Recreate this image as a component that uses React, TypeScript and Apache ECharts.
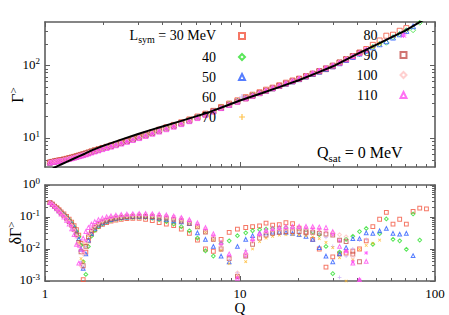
import React, { useEffect, useRef } from 'react';
import * as echarts from 'echarts';

// ---------- data ----------
const qGrid = [
  1.06, 1.09, 1.12, 1.15, 1.18, 1.21, 1.25, 1.29, 1.33, 1.37,
  1.41, 1.45, 1.49, 1.53, 1.57, 1.62, 1.67, 1.73, 1.80, 1.88,
  1.97, 2.07, 2.18, 2.31, 2.46, 2.63, 2.82, 3.04, 3.28, 3.55,
  3.85, 4.19, 4.57, 5.0, 5.5, 6.05, 6.65, 7.3, 8.0, 8.8,
  9.7, 10.7, 11.6, 12.6, 13.6, 14.7, 15.9, 17.2, 18.6, 20.1,
  21.8, 23.6, 25.5, 27.6, 29.9, 32.4, 35.0, 37.9, 41.0, 44.4,
  48.0, 52.0, 56.3, 60.9, 65.9, 71.3, 77.2, 83.5, 90.4,
];

const lsymNames = ['30', '40', '50', '60', '70', '80', '90', '100', '110'];

const gamma30 = [
  4.61, 4.70, 4.78, 4.86, 4.93, 4.97, 5.09, 5.19, 5.31, 5.41,
  5.52, 5.64, 5.76, 5.88, 5.97, 6.15, 6.33, 6.55, 6.79, 7.03,
  7.32, 7.60, 7.92, 8.30, 8.75, 9.25, 9.81, 10.47, 11.25, 12.14,
  13.11, 14.14, 15.23, 16.57, 18.12, 19.87, 21.75, 23.8, 26.93, 29.96,
  33.24, 36.75, 39.69, 42.96, 46.6, 49.74, 53.64, 58.2, 62.45, 66.15,
  71.31, 76.7, 82.6, 89.5, 98.2, 109.6, 121.9, 135.7, 151.3, 169.5,
  193.6, 222.4, 258.8, 267, 302.7, 329.4, 404.8, 474.8, 534.5,
];
const delta30 = [
  0.28, 0.25, 0.22, 0.195, 0.17, 0.145, 0.125, 0.105, 0.086, 0.069,
  0.054, 0.04, 0.027, 0.015, 0.0011, 0.008, 0.018, 0.029, 0.04, 0.05,
  0.059, 0.067, 0.074, 0.08, 0.085, 0.089, 0.091, 0.09, 0.085, 0.077,
  0.067, 0.06, 0.054, 0.042, 0.031, 0.019, 0.01, 0.0085, 0.02, 0.033,
  0.042, 0.047, 0.05, 0.053, 0.064, 0.056, 0.058, 0.066, 0.062, 0.045,
  0.032, 0.02, 0.01, 0.0027, 0.0057, 0.007, 0.0075, 0.0085, 0.01, 0.018,
  0.05, 0.085, 0.14, 0.06, 0.085, 0.06, 0.15, 0.19, 0.18,
];

const gamma40 = [
  4.61, 4.70, 4.78, 4.84, 4.90, 4.95, 5.06, 5.17, 5.29, 5.39,
  5.50, 5.62, 5.74, 5.87, 5.99, 6.19, 6.37, 6.58, 6.80, 7.03,
  7.31, 7.58, 7.88, 8.25, 8.70, 9.19, 9.73, 10.36, 11.11, 11.94,
  12.9, 13.96, 15.13, 16.44, 18.01, 19.8, 21.78, 23.86, 26.8, 29.52,
  32.73, 36.22, 39.2, 42.43, 45.64, 49.17, 52.98, 57.11, 61.45, 66.02,
  71.86, 77.76, 84.09, 90.37, 97.4, 107.9, 118.6, 131.2, 144.6, 159.2,
  181.8, 198.9, 207.2, 246.9, 274, 307.8, 308.4, 391.4,
];
const delta40 = [
  0.28, 0.25, 0.22, 0.19, 0.165, 0.14, 0.12, 0.1, 0.082, 0.065,
  0.05, 0.036, 0.024, 0.013, 0.004, 0.0016, 0.012, 0.025, 0.038, 0.05,
  0.061, 0.07, 0.078, 0.085, 0.09, 0.095, 0.098, 0.099, 0.097, 0.092,
  0.082, 0.072, 0.06, 0.05, 0.037, 0.022, 0.0088, 0.006, 0.015, 0.018,
  0.026, 0.032, 0.037, 0.04, 0.042, 0.044, 0.045, 0.046, 0.045, 0.043,
  0.04, 0.034, 0.028, 0.012, 0.0017, 0.008, 0.02, 0.025, 0.035, 0.044,
  0.014, 0.03, 0.087, 0.02, 0.018, 0.0098, 0.124, 0.019,
];

const gamma50 = [
  4.61, 4.70, 4.78, 4.84, 4.90, 4.95, 5.05, 5.16, 5.28, 5.38,
  5.49, 5.60, 5.73, 5.85, 5.98, 6.16, 6.33, 6.54, 6.76, 6.99,
  7.27, 7.54, 7.84, 8.21, 8.64, 9.14, 9.68, 10.3, 11.03, 11.84,
  12.74, 13.76, 14.88, 16.09, 17.54, 19.6, 21.53, 23.71, 26.24, 28.88,
  32.28, 35.8, 38.78, 42.06, 45.2, 48.7, 52.42, 56.4, 60.62, 65.07,
  70.83, 76.7, 82.7, 89.84, 98, 108, 119.7, 131.8, 146.7, 161.2,
  178.7, 197.4, 217, 244.1, 270.9, 301.2, 349.8,
];
const delta50 = [
  0.28, 0.25, 0.22, 0.19, 0.165, 0.14, 0.118, 0.098, 0.08, 0.063,
  0.048, 0.034, 0.021, 0.01, 0.0025, 0.007, 0.019, 0.031, 0.044, 0.056,
  0.066, 0.075, 0.083, 0.09, 0.096, 0.1, 0.103, 0.104, 0.103, 0.1,
  0.093, 0.085, 0.076, 0.07, 0.062, 0.032, 0.02, 0.012, 0.006, 0.004,
  0.012, 0.02, 0.026, 0.031, 0.032, 0.034, 0.034, 0.033, 0.031, 0.028,
  0.025, 0.02, 0.011, 0.006, 0.004, 0.007, 0.011, 0.021, 0.021, 0.032,
  0.031, 0.037, 0.044, 0.031, 0.029, 0.031, 0.0062,
];

const gamma60 = [
  4.61, 4.70, 4.76, 4.82, 4.88, 4.93, 5.03, 5.14, 5.25, 5.35,
  5.45, 5.57, 5.69, 5.81, 5.98, 6.13, 6.27, 6.48, 6.70, 6.93,
  7.20, 7.47, 7.77, 8.14, 8.57, 9.05, 9.59, 10.21, 10.93, 11.73,
  12.59, 13.57, 14.65, 15.92, 17.43, 19.2, 21.18, 23.5, 26.11, 28.87,
  31.84, 35.42, 38.56, 41.94, 45.29, 48.89, 52.73, 56.84, 61.21, 65.83,
  71.73, 77.83, 84.25, 91.35, 98.77, 108.9, 120.3, 133.3, 147, 163.2,
];
const delta60 = [
  0.28, 0.25, 0.215, 0.185, 0.16, 0.135, 0.113, 0.093, 0.074, 0.057,
  0.041, 0.027, 0.014, 0.004, 0.0025, 0.012, 0.028, 0.04, 0.052, 0.064,
  0.074, 0.083, 0.091, 0.098, 0.104, 0.108, 0.111, 0.112, 0.111, 0.108,
  0.104, 0.098, 0.09, 0.08, 0.068, 0.052, 0.036, 0.021, 0.011, 0.0045,
  0.0018, 0.009, 0.02, 0.028, 0.034, 0.038, 0.04, 0.041, 0.041, 0.04,
  0.038, 0.035, 0.03, 0.023, 0.012, 0.0013, 0.006, 0.01, 0.019, 0.02,
];

const gamma70 = [
  4.61, 4.70, 4.76, 4.82, 4.88, 4.93, 5.03, 5.14, 5.26, 5.35,
  5.46, 5.57, 5.69, 5.82, 5.95, 6.11, 6.28, 6.49, 6.72, 6.95,
  7.23, 7.50, 7.81, 8.17, 8.61, 9.10, 9.65, 10.27, 11.0, 11.8,
  12.66, 13.64, 14.73, 16.0, 17.52, 19.28, 21.25, 23.54, 26.16, 28.9,
  31.85, 35.24, 38.18, 41.49, 44.76, 48.28, 52.07, 56.13, 60.45, 65.01,
  70.9, 77, 83.52, 90.73, 98.67, 109.4, 121.1, 134, 148.3, 164.3,
  181.6, 201.1,
];
const delta70 = [
  0.28, 0.25, 0.215, 0.185, 0.16, 0.135, 0.113, 0.093, 0.075, 0.058,
  0.042, 0.028, 0.015, 0.005, 0.004, 0.014, 0.026, 0.038, 0.05, 0.061,
  0.071, 0.08, 0.087, 0.094, 0.099, 0.103, 0.106, 0.107, 0.106, 0.103,
  0.099, 0.093, 0.085, 0.075, 0.063, 0.048, 0.033, 0.019, 0.009, 0.0035,
  0.0015, 0.004, 0.01, 0.017, 0.022, 0.025, 0.027, 0.028, 0.028, 0.027,
  0.026, 0.024, 0.021, 0.016, 0.011, 0.0054, 0.001, 0.0046, 0.0098, 0.013,
  0.015, 0.019,
];

const gamma80 = [
  4.61, 4.70, 4.76, 4.81, 4.86, 4.90, 5.01, 5.11, 5.23, 5.33,
  5.44, 5.55, 5.68, 5.81, 5.92, 6.09, 6.26, 6.46, 6.67, 6.90,
  7.17, 7.42, 7.72, 8.08, 8.51, 8.98, 9.52, 10.12, 10.82, 11.6,
  12.45, 13.42, 14.49, 15.74, 17.26, 19.04, 21.05, 23.38, 26.03, 28.83,
  31.86, 35.31, 38.48, 41.94, 45.33, 48.98, 52.88, 57.06, 61.5, 66.21,
  72.21, 78.43, 85.07, 92.43, 100.3, 110.8, 122.1, 135.1, 150, 165.2,
];
const delta80 = [
  0.28, 0.25, 0.215, 0.183, 0.155, 0.13, 0.108, 0.088, 0.07, 0.053,
  0.038, 0.024, 0.012, 0.0035, 0.008, 0.018, 0.03, 0.043, 0.056, 0.068,
  0.079, 0.089, 0.097, 0.104, 0.11, 0.115, 0.118, 0.12, 0.12, 0.118,
  0.114, 0.108, 0.1, 0.09, 0.077, 0.06, 0.042, 0.026, 0.014, 0.006,
  0.0013, 0.006, 0.018, 0.028, 0.035, 0.04, 0.043, 0.045, 0.046, 0.046,
  0.045, 0.043, 0.04, 0.035, 0.028, 0.018, 0.0088, 0.004, 0.0011, 0.0076,
];

const gamma90 = [
  4.61, 4.70, 4.76, 4.82, 4.88, 4.92, 5.02, 5.12, 5.24, 5.34,
  5.45, 5.57, 5.70, 5.84, 5.99, 6.13, 6.30, 6.51, 6.73, 6.96,
  7.24, 7.51, 7.81, 8.18, 8.62, 9.11, 9.66, 10.28, 11.01, 11.81,
  12.67, 13.66, 14.75, 16.0, 17.52, 19.26, 21.22, 23.52, 26.14, 28.86,
  31.86, 35.31, 38.33, 41.7, 44.98, 48.56, 52.37, 56.51, 60.86, 65.52,
  71.45, 77.68, 84.34, 91.89, 100.2, 110.9, 123.1, 135.5, 150.4,
];
const delta90 = [
  0.28, 0.25, 0.215, 0.185, 0.158, 0.133, 0.11, 0.09, 0.072, 0.056,
  0.041, 0.028, 0.016, 0.0082, 0.003, 0.012, 0.024, 0.036, 0.048, 0.06,
  0.07, 0.079, 0.087, 0.093, 0.098, 0.102, 0.105, 0.106, 0.105, 0.102,
  0.098, 0.092, 0.084, 0.075, 0.063, 0.049, 0.034, 0.02, 0.01, 0.005,
  0.0014, 0.006, 0.014, 0.022, 0.027, 0.031, 0.033, 0.035, 0.035, 0.035,
  0.034, 0.033, 0.031, 0.029, 0.027, 0.019, 0.017, 0.0069, 0.004,
];

const gamma100 = [
  4.61, 4.70, 4.76, 4.82, 4.87, 4.91, 5.01, 5.12, 5.24, 5.33,
  5.44, 5.56, 5.68, 5.81, 5.93, 6.09, 6.26, 6.47, 6.69, 6.91,
  7.18, 7.44, 7.74, 8.10, 8.54, 9.02, 9.56, 10.17, 10.87, 11.65,
  12.5, 13.48, 14.55, 15.81, 17.33, 19.1, 21.09, 23.42, 26.08, 28.86,
  31.84, 35.35, 38.44, 41.86, 45.25, 48.89, 52.78, 56.95, 61.39, 66.09,
  72.07, 78.36, 85.07, 92.6, 100.8, 111.8, 123.9, 135.4,
];
const delta100 = [
  0.28, 0.25, 0.215, 0.184, 0.156, 0.131, 0.109, 0.089, 0.071, 0.054,
  0.039, 0.025, 0.013, 0.003, 0.007, 0.017, 0.029, 0.041, 0.054, 0.066,
  0.077, 0.087, 0.095, 0.102, 0.107, 0.111, 0.114, 0.116, 0.116, 0.114,
  0.11, 0.104, 0.096, 0.086, 0.073, 0.057, 0.04, 0.024, 0.012, 0.005,
  0.0018, 0.007, 0.017, 0.026, 0.033, 0.038, 0.041, 0.043, 0.044, 0.044,
  0.043, 0.042, 0.04, 0.037, 0.033, 0.028, 0.024, 0.0057,
];

const gamma110 = [
  4.61, 4.70, 4.75, 4.80, 4.84, 4.88, 4.97, 5.07, 5.18, 5.28,
  5.39, 5.50, 5.63, 5.73, 5.84, 5.98, 6.15, 6.35, 6.56, 6.79,
  7.06, 7.32, 7.62, 7.98, 8.41, 8.89, 9.42, 10.02, 10.71, 11.48,
  12.32, 13.28, 14.36, 15.62, 17.15, 18.91, 20.94, 23.28, 25.98, 28.8,
  31.86, 35.38, 38.59, 42.06, 45.51, 49.17, 53.13, 57.33, 61.8, 66.53,
  72.62, 78.96, 85.81, 93.5, 101, 110.1, 122.1, 135.1, 150, 165.8,
];
const delta110 = [
  0.28, 0.25, 0.213, 0.18, 0.15, 0.124, 0.1, 0.079, 0.06, 0.043,
  0.028, 0.014, 0.0036, 0.01, 0.022, 0.035, 0.047, 0.06, 0.072, 0.083,
  0.093, 0.102, 0.109, 0.115, 0.12, 0.124, 0.127, 0.129, 0.129, 0.127,
  0.123, 0.117, 0.108, 0.097, 0.083, 0.066, 0.047, 0.03, 0.016, 0.007,
  0.0012, 0.008, 0.021, 0.031, 0.039, 0.044, 0.048, 0.05, 0.051, 0.051,
  0.051, 0.05, 0.049, 0.047, 0.035, 0.012, 0.0087, 0.0036, 0.0011, 0.0041,
];

const curveQ = [1.06, 1.125, 1.2, 1.3, 1.4, 1.5, 1.6, 1.76, 2.0, 2.5, 3.0, 3.5, 4.0, 5.0, 6.0, 7.0, 8.5, 10, 13, 16, 20, 25, 30, 40, 52, 60, 70, 81, 90];
const curveGamma = [3.6, 3.95, 4.3, 4.75, 5.2, 5.65, 6.1, 6.9, 7.9, 9.7, 11.4, 13.0, 14.5, 17.3, 20.1, 23, 28, 33, 42, 51, 63, 80, 98, 145, 205, 247, 302, 380, 450];

const xMajorTicks = [1, 10, 100];
const xMinorTicks = [2, 3, 4, 5, 6, 7, 8, 9, 20, 30, 40, 50, 60, 70, 80, 90];
const topYMajorTicks = [10, 100];
const topYMinorTicks = [5, 6, 7, 8, 9, 20, 30, 40, 50, 60, 70, 80, 90, 200, 300];
const botYMajorTicks = [0.001, 0.01, 0.1, 1];
const botYMinorTicks = [0.002, 0.003, 0.004, 0.005, 0.006, 0.007, 0.008, 0.009, 0.02, 0.03, 0.04, 0.05, 0.06, 0.07, 0.08, 0.09, 0.2, 0.3, 0.4, 0.5, 0.6, 0.7, 0.8, 0.9];

const gammaSets = [gamma30, gamma40, gamma50, gamma60, gamma70, gamma80, gamma90, gamma100, gamma110];
const deltaSets = [delta30, delta40, delta50, delta60, delta70, delta80, delta90, delta100, delta110];

// ---------- styles ----------
const FONT = 'Liberation Serif';
const PLUS = 'path://M0.40,0H0.60V1H0.40ZM0,0.40H1V0.60H0Z';
const STAR = 'path://M0.41,0H0.59V1H0.41ZM0,0.41H1V0.59H0ZM0.09,0L1,0.91L0.91,1L0,0.09ZM0.91,0L1,0.09L0.09,1L0,0.91Z';
const markerStyles = [
  { color: '#f2553f', symbol: 'rect', open: true, rotate: 0 },
  { color: '#2fe02f', symbol: 'diamond', open: true, rotate: 0 },
  { color: '#2a5cff', symbol: 'triangle', open: true, rotate: 0 },
  { color: '#c6a2f2', symbol: PLUS, open: false, rotate: 0 },
  { color: '#ffb41f', symbol: PLUS, open: false, rotate: 45 },
  { color: '#ff3cff', symbol: STAR, open: false, rotate: 0 },
  { color: '#c4524f', symbol: 'rect', open: true, rotate: 0 },
  { color: '#ffc4c4', symbol: 'diamond', open: true, rotate: 0 },
  { color: '#ff4df0', symbol: 'triangle', open: true, rotate: 0 },
];

const frameLine = { color: '#5e5e5e', width: 1.6 };
const tickLine = { color: '#5e5e5e', width: 1 };

function makeScatter(i: number, vals: number[], axisIdx: number, size: number) {
  const m = markerStyles[i];
  return {
    type: 'scatter',
    name: lsymNames[i],
    xAxisIndex: axisIdx,
    yAxisIndex: axisIdx,
    data: vals.map((v, j) => [qGrid[j], v]),
    symbol: m.symbol,
    symbolSize: size,
    symbolRotate: m.rotate,
    clip: true,
    silent: true,
    itemStyle: m.open
      ? { color: 'rgba(255,255,255,0)', borderColor: m.color, borderWidth: 1 }
      : { color: m.color, borderWidth: 0 },
    emphasis: { disabled: true },
    z: 2,
  };
}

const supRich = {
  b: { fontSize: 13, fontFamily: FONT, color: '#000', lineHeight: 15, verticalAlign: 'bottom' },
  s: { fontSize: 9, fontFamily: FONT, color: '#000', lineHeight: 10, padding: [0, 0, 5, 0], verticalAlign: 'bottom' },
};

function xAxisDef(grid: number, pos: string, ticks: number[], len: number, line: boolean, labels: boolean) {
  const ax: any = {
    type: 'log', logBase: 10, min: 1, max: 100, gridIndex: grid, position: pos,
    splitLine: { show: false }, minorTick: { show: false }, minorSplitLine: { show: false },
    axisLine: { show: line, lineStyle: frameLine },
    axisTick: { show: true, inside: true, length: len, customValues: ticks, lineStyle: tickLine },
    axisLabel: labels
      ? { show: true, customValues: xMajorTicks, formatter: (v: number) => String(Math.round(v)), fontSize: 13, fontFamily: FONT, color: '#000', margin: 6 }
      : { show: false },
  };
  if (labels) {
    ax.name = 'Q';
    ax.nameLocation = 'middle';
    ax.nameGap = 16;
    ax.nameTextStyle = { fontSize: 15, fontFamily: FONT, color: '#000', lineHeight: 14 };
  }
  return ax;
}

function yAxisDef(grid: number, pos: string, min: number, max: number, ticks: number[], len: number, line: boolean, labelVals: number[] | null) {
  return {
    type: 'log', logBase: 10, min, max, gridIndex: grid, position: pos,
    splitLine: { show: false }, minorTick: { show: false }, minorSplitLine: { show: false },
    axisLine: { show: line, lineStyle: frameLine },
    axisTick: { show: true, inside: true, length: len, customValues: ticks, lineStyle: tickLine },
    axisLabel: labelVals
      ? {
          show: true, customValues: labelVals, margin: 5, padding: [0, 0, 5, 0],
          formatter: (v: number) => `{b|10}{s|${Math.round(Math.log10(v))}}`,
          rich: supRich,
        }
      : { show: false },
  };
}

export default function App() {
  const ref = useRef<HTMLDivElement>(null);
  useEffect(() => {
    if (!ref.current) return;
    const chart = echarts.init(ref.current, null, { renderer: 'svg' });

    const topGrid = { left: 45, top: 22, width: 390, height: 145, outerBoundsMode: 'none' };
    const botGrid = { left: 45, top: 185, width: 390, height: 96, outerBoundsMode: 'none' };

    const series: any[] = [];
    gammaSets.forEach((g, i) => series.push(makeScatter(i, g, 0, 5)));
    deltaSets.forEach((d, i) => series.push(makeScatter(i, d, 1, 3.8)));
    series.push({
      type: 'line', name: 'fit', xAxisIndex: 0, yAxisIndex: 0,
      data: curveQ.map((q, i) => [q, curveGamma[i]]),
      showSymbol: false, symbol: 'none', clip: true, silent: true,
      lineStyle: { color: '#000', width: 2 }, z: 5,
    });

    const legendText = (name: string) =>
      name === '30' ? '{t|L}{u|sym}{t| = 30 MeV}{g| }' : `{t|${name}}{g| }`;
    const legendRich = {
      t: { fontSize: 14, fontFamily: FONT, color: '#000', verticalAlign: 'top' },
      u: { fontSize: 10, fontFamily: FONT, color: '#000', padding: [6, 0, 0, 0], verticalAlign: 'top' },
      g: { width: 18, fontSize: 10, verticalAlign: 'top' },
    };
    const legendBase = {
      orient: 'vertical', align: 'right', top: 28, padding: 0, itemGap: 6,
      itemWidth: 6, itemHeight: 6, selectedMode: false,
      formatter: legendText,
      textStyle: { rich: legendRich, fontFamily: FONT, fontSize: 14, color: '#000' },
    };

    const option: any = {
      animation: false,
      backgroundColor: '#fff',
      textStyle: { fontFamily: FONT },
      grid: [topGrid, botGrid, { ...topGrid }, { ...botGrid }],
      xAxis: [
        xAxisDef(0, 'bottom', xMajorTicks, 5, true, false),
        xAxisDef(1, 'bottom', xMajorTicks, 5, true, true),
        xAxisDef(0, 'top', xMajorTicks, 5, true, false),
        xAxisDef(1, 'top', xMajorTicks, 5, true, false),
        xAxisDef(2, 'bottom', xMinorTicks, 3, false, false),
        xAxisDef(2, 'top', xMinorTicks, 3, false, false),
        xAxisDef(3, 'bottom', xMinorTicks, 3, false, false),
        xAxisDef(3, 'top', xMinorTicks, 3, false, false),
      ],
      yAxis: [
        yAxisDef(0, 'left', 4, 400, topYMajorTicks, 5, true, topYMajorTicks),
        yAxisDef(1, 'left', 0.001, 1, botYMajorTicks, 5, true, botYMajorTicks),
        yAxisDef(0, 'right', 4, 400, topYMajorTicks, 5, true, null),
        yAxisDef(1, 'right', 0.001, 1, botYMajorTicks, 5, true, null),
        yAxisDef(2, 'left', 4, 400, topYMinorTicks, 3, false, null),
        yAxisDef(2, 'right', 4, 400, topYMinorTicks, 3, false, null),
        yAxisDef(3, 'left', 0.001, 1, botYMinorTicks, 3, false, null),
        yAxisDef(3, 'right', 0.001, 1, botYMinorTicks, 3, false, null),
      ],
      legend: [
        { ...legendBase, right: 203, data: lsymNames.slice(0, 5) },
        { ...legendBase, right: 41.5, data: lsymNames.slice(5) },
      ],
      graphic: [
        {
          type: 'text', x: 16, y: 95, rotation: Math.PI / 2, silent: true,
          style: {
            text: '{a|Γ}{s|>}', align: 'center', verticalAlign: 'middle',
            rich: {
              a: { fontSize: 16, fontFamily: FONT, fill: '#000', lineHeight: 18, verticalAlign: 'bottom' },
              s: { fontSize: 11, fontFamily: FONT, fill: '#000', lineHeight: 12, padding: [0, 0, 7, 0], verticalAlign: 'bottom' },
            },
          },
        },
        {
          type: 'text', x: 14, y: 233, rotation: Math.PI / 2, silent: true,
          style: {
            text: '{a|δΓ}{s|>}', align: 'center', verticalAlign: 'middle',
            rich: {
              a: { fontSize: 16, fontFamily: FONT, fill: '#000', lineHeight: 18, verticalAlign: 'bottom' },
              s: { fontSize: 11, fontFamily: FONT, fill: '#000', lineHeight: 12, padding: [0, 0, 7, 0], verticalAlign: 'bottom' },
            },
          },
        },
        {
          type: 'text', x: 317, y: 153, silent: true,
          style: {
            text: '{a|Q}{u|sat}{a| = 0 MeV}', align: 'left', verticalAlign: 'middle',
            rich: {
              a: { fontSize: 16, fontFamily: FONT, fill: '#000', lineHeight: 18, verticalAlign: 'top' },
              u: { fontSize: 11, fontFamily: FONT, fill: '#000', lineHeight: 12, padding: [8, 0, 0, 0], verticalAlign: 'top' },
            },
          },
        },
      ],
      series,
    };
    chart.setOption(option);
    return () => chart.dispose();
  }, []);
  return (
    <div
      ref={ref}
      style={{ position: 'absolute', left: 0, top: 0, width: 449, height: 315, background: '#fff' }}
    />
  );
}
